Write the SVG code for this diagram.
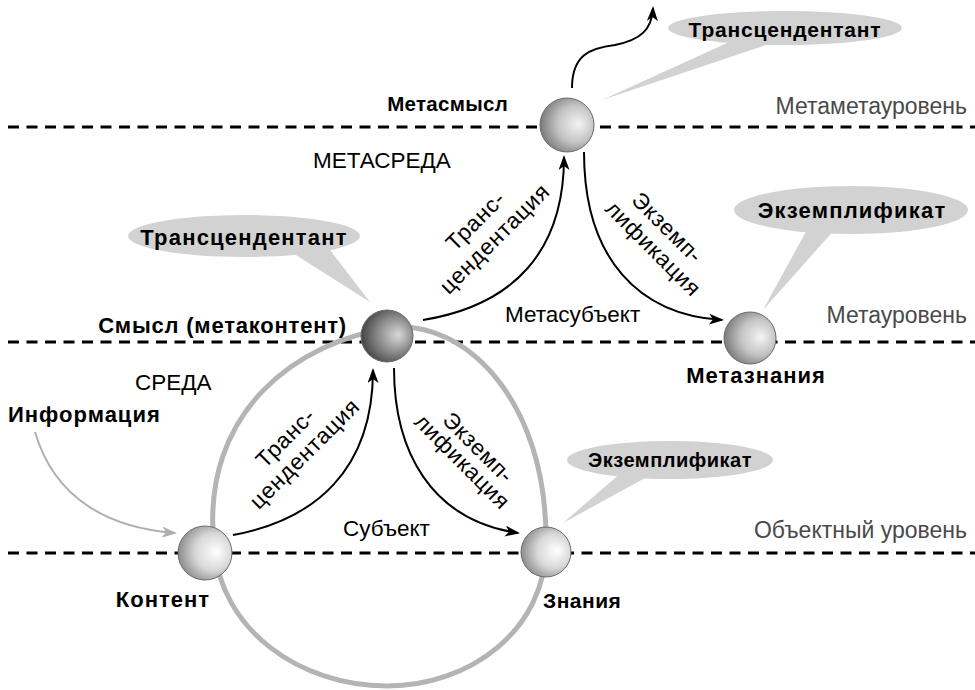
<svg xmlns="http://www.w3.org/2000/svg" width="975" height="690" viewBox="0 0 975 690">
<defs>
  <radialGradient id="gLight" cx="0.62" cy="0.48" r="0.62" fx="0.72" fy="0.48">
    <stop offset="0" stop-color="#ffffff"/>
    <stop offset="0.55" stop-color="#d8d8d8"/>
    <stop offset="1" stop-color="#8c8c8c"/>
  </radialGradient>
  <radialGradient id="gMid" cx="0.62" cy="0.48" r="0.62" fx="0.72" fy="0.48">
    <stop offset="0" stop-color="#f4f4f4"/>
    <stop offset="0.55" stop-color="#c4c4c4"/>
    <stop offset="1" stop-color="#7a7a7a"/>
  </radialGradient>
  <radialGradient id="gDark" cx="0.62" cy="0.48" r="0.62" fx="0.72" fy="0.48">
    <stop offset="0" stop-color="#d8d8d8"/>
    <stop offset="0.55" stop-color="#8a8a8a"/>
    <stop offset="1" stop-color="#444444"/>
  </radialGradient>
  <marker id="ah" markerWidth="15" markerHeight="11" refX="13" refY="5.5" orient="auto" markerUnits="userSpaceOnUse">
    <path d="M0,0 L15,5.5 L0,11 L4,5.5 z" fill="#000"/>
  </marker>
  <marker id="ahg" markerWidth="15" markerHeight="11" refX="13" refY="5.5" orient="auto" markerUnits="userSpaceOnUse">
    <path d="M0,0 L15,5.5 L0,11 L4,5.5 z" fill="#b0b0b0"/>
  </marker>
</defs>
<style>
  .dash{stroke:#000;stroke-width:3;stroke-dasharray:11 7.5;fill:none}
  .ring{fill:none;stroke:#b4b4b4;stroke-width:5}
  .conn{fill:none;stroke:#000;stroke-width:2}
  .gconn{fill:none;stroke:#b0b0b0;stroke-width:2}
  .call{fill:#d2d2d2}
  .ball{stroke:#6a6a6a;stroke-width:1}
  .lvl{font-family:"Liberation Sans",Arial,sans-serif;font-size:23px;fill:#4a4a4a;text-anchor:end}
  .lbl{font-family:"Liberation Sans",Arial,sans-serif;font-size:22.5px;fill:#000}
  .rot{font-family:"Liberation Sans",Arial,sans-serif;font-size:22.5px;fill:#000;text-anchor:middle;letter-spacing:0.8px}
  .bold{font-family:"Liberation Sans",Arial,sans-serif;font-size:22px;font-weight:bold;fill:#000;letter-spacing:1px}
  .ctext{font-family:"Liberation Sans",Arial,sans-serif;font-size:21px;font-weight:bold;fill:#000;text-anchor:middle;letter-spacing:0.8px}
</style>

<g id="levels">
  <line class="dash" x1="8" y1="127" x2="975" y2="127"/>
  <line class="dash" x1="8" y1="342" x2="975" y2="342"/>
  <line class="dash" x1="8" y1="553" x2="975" y2="553"/>
  <text class="lvl" x="967" y="114">Метаметауровень</text>
  <text class="lvl" x="967" y="323">Метауровень</text>
  <text class="lvl" x="967" y="538">Объектный уровень</text>
</g>

<g id="ring">
  <path class="ring" d="M392,328 C460,319 548,395 546,545 C546,630 470,686 387,686 C300,686 220,630 214,545 C200,410 300,340 392,328 Z"/>
</g>

<g id="callouts">
  <g id="callout-top">
    <polygon class="call" points="738,38 775,42 602,100"/>
    <ellipse class="call" cx="785" cy="28" rx="117" ry="17"/>
    <text class="ctext" x="785" y="37">Трансцендентант</text>
  </g>
  <g id="callout-left">
    <polygon class="call" points="288,250 330,250 370,302"/>
    <ellipse class="call" cx="244" cy="236" rx="116" ry="21"/>
    <text class="ctext" x="244" y="245" style="font-size:22px;letter-spacing:1.2px">Трансцендентант</text>
  </g>
  <g id="callout-right">
    <polygon class="call" points="808,228 836,228 763,310"/>
    <ellipse class="call" cx="851" cy="210" rx="117" ry="24"/>
    <text class="ctext" x="852" y="218" style="font-size:22px;letter-spacing:1.2px">Экземплификат</text>
  </g>
  <g id="callout-low">
    <polygon class="call" points="622,472 656,472 563,523"/>
    <ellipse class="call" cx="670" cy="460" rx="103" ry="19"/>
    <text class="ctext" x="670" y="467" style="font-size:20px;letter-spacing:0.5px">Экземплификат</text>
  </g>
</g>

<g id="connectors">
  <path class="gconn" marker-end="url(#ahg)" d="M35,432 C55,500 110,528 175,533"/>
  <path class="conn" marker-end="url(#ah)" d="M233,535 C315,520 373,470 373,370"/>
  <path class="conn" marker-end="url(#ah)" d="M394,368 C394,450 430,520 518,533"/>
  <path class="conn" marker-end="url(#ah)" d="M423,320 C515,305 564,250 564,157"/>
  <path class="conn" marker-end="url(#ah)" d="M584,152 C584,260 640,315 722,320"/>
  <path class="conn" marker-end="url(#ah)" d="M572,88 C572,55 590,48 615,45 C640,40 652,30 653,8"/>
</g>

<g id="edge-labels">
  <text class="rot" transform="translate(291,443) rotate(-45)">Транс-</text>
  <text class="rot" transform="translate(310,459) rotate(-45)">цендентация</text>
  <text class="rot" transform="translate(481,226) rotate(-45)">Транс-</text>
  <text class="rot" transform="translate(500,244) rotate(-45)">цендентация</text>
  <text class="rot" transform="translate(473,453) rotate(45)">Экземп-</text>
  <text class="rot" transform="translate(457,467) rotate(45)">лификация</text>
  <text class="rot" transform="translate(662,233) rotate(45)">Экземп-</text>
  <text class="rot" transform="translate(648,254) rotate(45)">лификация</text>
  <text class="lbl" x="505" y="322">Метасубъект</text>
  <text class="lbl" x="343" y="536">Субъект</text>
</g>

<g id="zones">
  <text class="lbl" x="313" y="168">МЕТАСРЕДА</text>
  <text class="lbl" x="135" y="390">СРЕДА</text>
</g>

<g id="node-metasmysl">
  <circle class="ball" cx="567" cy="125" r="27" fill="url(#gMid)"/>
  <text class="bold" x="508" y="111" text-anchor="end" style="font-size:20.5px;letter-spacing:0.3px">Метасмысл</text>
</g>
<g id="node-smysl">
  <circle class="ball" cx="387" cy="336" r="26" fill="url(#gDark)"/>
  <text class="bold" x="347" y="333" text-anchor="end" style="letter-spacing:0.8px">Смысл (метаконтент)</text>
</g>
<g id="node-metaznaniya">
  <circle class="ball" cx="750" cy="338" r="26" fill="url(#gMid)"/>
  <text class="bold" x="756" y="383" text-anchor="middle">Метазнания</text>
</g>
<g id="node-kontent">
  <circle class="ball" cx="205" cy="553" r="27" fill="url(#gLight)"/>
  <text class="bold" x="210" y="607" text-anchor="end">Контент</text>
</g>
<g id="node-znaniya">
  <circle class="ball" cx="546" cy="552" r="25" fill="url(#gLight)"/>
  <text class="bold" x="543" y="608" style="font-size:21px;letter-spacing:0.5px">Знания</text>
</g>
<g id="node-informaciya">
  <text class="bold" x="8" y="422">Информация</text>
</g>
</svg>
